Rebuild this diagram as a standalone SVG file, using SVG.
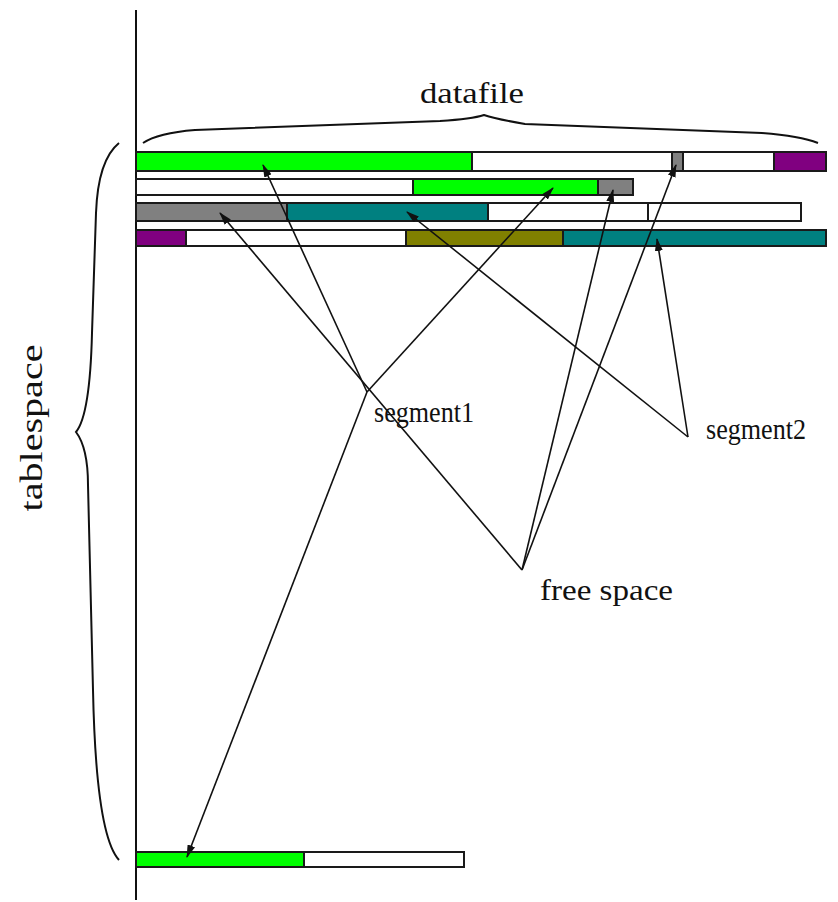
<svg xmlns="http://www.w3.org/2000/svg" width="838" height="902" viewBox="0 0 838 902">
<style>
.bar{stroke:#1a1a1a;stroke-width:2}
.w{fill:#ffffff}.g{fill:#00ff00}.gr{fill:#808080}.t{fill:#008080}.p{fill:#800080}.o{fill:#808000}
.ln{stroke:#111;stroke-width:1.6;fill:none}
.br{stroke:#111;stroke-width:2;fill:none}
.lbl{font-family:"Liberation Serif","Times New Roman",serif;font-size:30px;fill:#111}
</style>
<defs>
<marker id="ah" markerUnits="userSpaceOnUse" markerWidth="13" markerHeight="8" refX="12" refY="4" orient="auto">
<path d="M0,0 L13,4 L0,8 z" fill="#111"/>
</marker>
</defs>
<rect width="838" height="902" fill="#ffffff"/>
<g id="axis"><line x1="136" y1="10" x2="136" y2="900" stroke="#111" stroke-width="2"/></g>
<g id="braces">
<path class="br" d="M143,143 Q158,133 195,130 L440,121 Q472,119 484,115 Q496,119 525,124 L762,133 Q800,136 818,143"/>
<path class="br" d="M119,143 Q98,160 96,213 L92,333 Q90,415 76,432 Q88,448 88,485 L93,690 Q96,835 119,860"/>
</g>
<g id="row1">
<rect class="bar g" x="136" y="152" width="336" height="19"/>
<rect class="bar w" x="472" y="152" width="200" height="19"/>
<rect class="bar gr" x="672" y="152" width="11" height="19"/>
<rect class="bar w" x="683" y="152" width="91" height="19"/>
<rect class="bar p" x="774" y="152" width="52" height="19"/>
</g>
<g id="row2">
<rect class="bar w" x="136" y="179" width="277" height="16"/>
<rect class="bar g" x="413" y="179" width="185" height="16"/>
<rect class="bar gr" x="598" y="179" width="35" height="16"/>
</g>
<g id="row3">
<rect class="bar gr" x="136" y="203" width="151" height="18"/>
<rect class="bar t" x="287" y="203" width="201" height="18"/>
<rect class="bar w" x="488" y="203" width="160" height="18"/>
<rect class="bar w" x="648" y="203" width="153" height="18"/>
</g>
<g id="row4">
<rect class="bar p" x="136" y="230" width="50" height="16"/>
<rect class="bar w" x="186" y="230" width="220" height="16"/>
<rect class="bar o" x="406" y="230" width="157" height="16"/>
<rect class="bar t" x="563" y="230" width="263" height="16"/>
</g>
<g id="row5">
<rect class="bar g" x="136" y="852" width="168" height="15"/>
<rect class="bar w" x="304" y="852" width="160" height="15"/>
</g>
<g id="connectors">
<line class="ln" x1="522" y1="570" x2="220" y2="213" marker-end="url(#ah)"/>
<line class="ln" x1="522" y1="570" x2="613" y2="190" marker-end="url(#ah)"/>
<line class="ln" x1="522" y1="570" x2="676" y2="165" marker-end="url(#ah)"/>
<line class="ln" x1="367" y1="392" x2="263" y2="165" marker-end="url(#ah)"/>
<line class="ln" x1="367" y1="392" x2="553" y2="188" marker-end="url(#ah)"/>
<line class="ln" x1="367" y1="392" x2="187" y2="857" marker-end="url(#ah)"/>
<line class="ln" x1="688" y1="437" x2="407" y2="212" marker-end="url(#ah)"/>
<line class="ln" x1="688" y1="437" x2="657" y2="239" marker-end="url(#ah)"/>
</g>
<g id="label-datafile"><text class="lbl" x="420" y="103" textLength="104" lengthAdjust="spacingAndGlyphs">datafile</text></g>
<g id="label-tablespace"><text class="lbl" transform="translate(42,428) rotate(-90)" text-anchor="middle" style="font-size:32px" textLength="167" lengthAdjust="spacingAndGlyphs">tablespace</text></g>
<g id="label-segment1"><text class="lbl" x="374" y="422" textLength="100" lengthAdjust="spacingAndGlyphs">segment1</text></g>
<g id="label-segment2"><text class="lbl" x="706" y="439" textLength="100" lengthAdjust="spacingAndGlyphs">segment2</text></g>
<g id="label-freespace"><text class="lbl" x="540" y="600" textLength="133" lengthAdjust="spacingAndGlyphs">free space</text></g>
</svg>
